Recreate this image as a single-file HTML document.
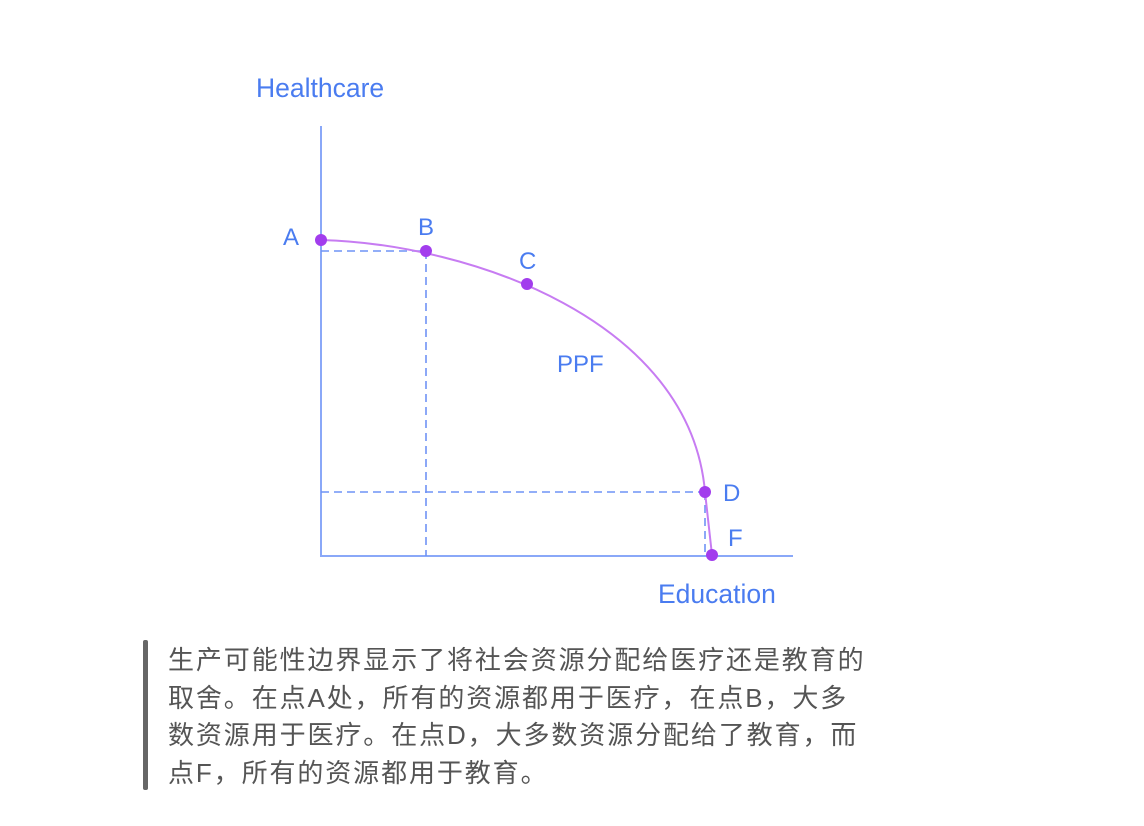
<!DOCTYPE html>
<html><head><meta charset="utf-8"><style>
body{margin:0;width:1144px;height:826px;background:#fff;position:relative;overflow:hidden}
svg{position:absolute;left:0;top:0}
.t{position:absolute;left:168px;top:642px;width:760px;font-family:"Liberation Sans","Noto Sans CJK SC",sans-serif;font-size:26px;letter-spacing:1.9px;line-height:37.5px;color:#555;white-space:nowrap}
.bar{position:absolute;left:143px;top:640px;width:5px;height:150px;background:#666;border-radius:2px}
</style></head><body>
<svg width="1144" height="826" font-family="Liberation Sans, sans-serif" fill="#4a7cf0">
<g stroke="#8aa8f8" stroke-width="2" fill="none">
<line x1="321" y1="126" x2="321" y2="557"/>
<line x1="320" y1="556" x2="793" y2="556"/>
</g>
<g stroke="#6f93f5" stroke-width="1.6" stroke-dasharray="8,5" fill="none">
<line x1="321" y1="251" x2="426" y2="251"/>
<line x1="426" y1="251" x2="426" y2="556"/>
<line x1="321" y1="492" x2="705" y2="492"/>
<line x1="705" y1="492" x2="705" y2="556"/>
</g>
<path d="M321,240 C470,244 690,320 705,492 L712,555" stroke="#c77cf2" stroke-width="2" fill="none"/>
<g fill="#a23ded">
<circle cx="321" cy="240" r="6"/><circle cx="426" cy="251" r="6"/><circle cx="527" cy="284" r="6"/><circle cx="705" cy="492" r="6"/><circle cx="712" cy="555" r="6"/>
</g>
<g font-size="24">
<text x="283" y="245">A</text><text x="418" y="235">B</text><text x="519" y="269">C</text>
<text x="723" y="501">D</text><text x="728" y="546">F</text>
<text x="557" y="372">PPF</text>
<text x="256" y="97" font-size="26.5">Healthcare</text>
<text x="658" y="603" font-size="26.5">Education</text>
</g>
</svg>
<div class="bar"></div>
<div class="t">生产可能性边界显示了将社会资源分配给医疗还是教育的<br>取舍。在点A处，所有的资源都用于医疗，在点B，大多<br>数资源用于医疗。在点D，大多数资源分配给了教育，而<br>点F，所有的资源都用于教育。</div>
</body></html>
